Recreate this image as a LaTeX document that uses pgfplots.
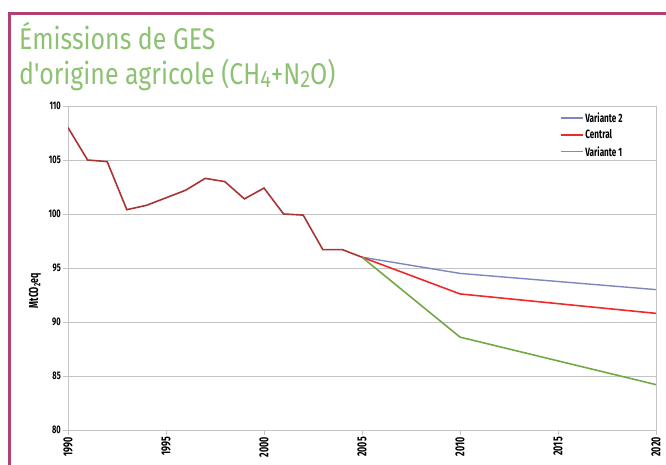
\documentclass[border=0pt]{standalone}
\usepackage{pgfplots}
\pgfplotsset{compat=1.18}
\usepackage{fontspec}
\setmainfont{Fira Sans}
\newfontfamily\titlefont{Fira Sans}[FakeStretch=0.83]
\newfontfamily\tickfont{Fira Sans}[FakeStretch=0.68]
\definecolor{borderc}{HTML}{B04272}
\definecolor{titlec}{HTML}{8DC272}
\definecolor{histc}{HTML}{A83434}
\definecolor{centc}{HTML}{EE2A2A}
\definecolor{vartwo}{HTML}{7E86BE}
\definecolor{varone}{HTML}{74A844}
\definecolor{gridc}{HTML}{C4C4C4}
\begin{document}
\begin{tikzpicture}[x=1pt,y=1pt]
\path[use as bounding box] (0,0) rectangle (666,464);
\draw[borderc, line width=3pt] (9,-2) -- (9,450.5) -- (668,450.5);
\node[anchor=base west, inner sep=0pt, text=titlec, font=\titlefont\fontsize{30}{30}\selectfont] at (19,414) {Émissions de GES};
\node[anchor=base west, inner sep=0pt, text=titlec, font=\titlefont\fontsize{30}{30}\selectfont] at (19,379) {d'origine agricole (CH\raisebox{-0.15ex}{\scalebox{0.8}{4}}+N\raisebox{-0.15ex}{\scalebox{0.8}{2}}O)};
\begin{axis}[
  at={(68pt,34pt)}, anchor=south west,
  scale only axis, width=588pt, height=324pt,
  xmin=1990, xmax=2020, ymin=80, ymax=110,
  xtick={1990,1995,2000,2005,2010,2015,2020},
  ytick={80,85,90,95,100,105,110},
  /pgf/number format/1000 sep={},
  /pgf/number format/assume math mode=true,
  axis line style={gridc, line width=1pt},
  ymajorgrids, grid style={gridc, line width=1pt},
  tick pos=left, tick align=outside, major tick length=5pt,
  tick style={gridc, line width=0.8pt},
  yticklabel style={font=\tickfont\bfseries\fontsize{11}{11}\selectfont, inner sep=2pt},
  xticklabel style={rotate=90, anchor=east, font=\tickfont\bfseries\fontsize{13}{13}\selectfont, inner sep=2pt},
  ylabel={MtCO\textsubscript{2}eq},
  ylabel style={at={(axis description cs:-0.056,0.43)}, anchor=center, font=\tickfont\bfseries\fontsize{13}{13}\selectfont},
  legend style={at={(axis description cs:0.835,0.99)}, anchor=north west, draw=none, fill=none,
    font=\tickfont\bfseries\fontsize{12}{12}\selectfont, row sep=2pt, inner sep=1pt},
  legend cell align=left,
  legend image code/.code={\draw[#1] (0pt,0pt) -- (22pt,0pt);},
]
\addlegendimage{draw={rgb,255:red,126;green,134;blue,190}, line width=1.2pt}
\addlegendentry{Variante 2}
\addlegendimage{draw={rgb,255:red,238;green,42;blue,42}, line width=1.2pt}
\addlegendentry{Central}
\addlegendimage{draw={rgb,255:red,116;green,168;blue,68}, line width=1.2pt}
\addlegendentry{Variante 1}
\addplot[vartwo, line width=1.4pt, forget plot] coordinates {(2005,96.0) (2010,94.5) (2020,93.0)};
\addplot[centc, line width=1.6pt, forget plot] coordinates {(2005,96.0) (2010,92.6) (2020,90.8)};
\addplot[varone, line width=1.6pt, forget plot] coordinates {(2005,96.0) (2010,88.6) (2020,84.2)};
\addplot[histc, line width=1.6pt, forget plot] coordinates {
(1990,108.0) (1991,105.0) (1992,104.85) (1993,100.4) (1994,100.8) (1995,101.5)
(1996,102.2) (1997,103.3) (1998,103.0) (1999,101.4) (2000,102.4) (2001,100.0)
(2002,99.9) (2003,96.7) (2004,96.7) (2005,96.0)};
\end{axis}
\end{tikzpicture}
\end{document}
